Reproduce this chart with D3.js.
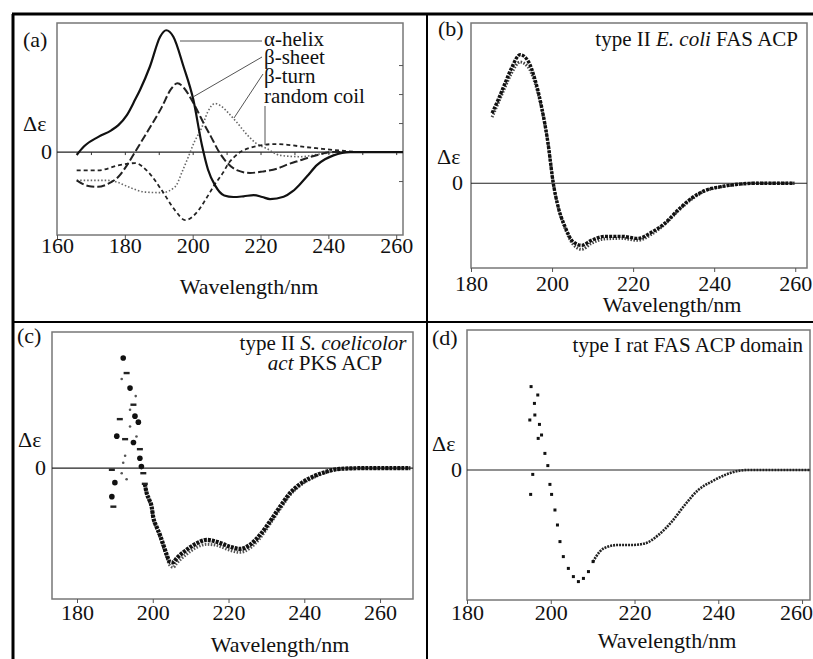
<!DOCTYPE html>
<html lang="en">
<head>
<meta charset="UTF-8">
<title>CD spectra of acyl carrier proteins</title>
<script src="https://d3js.org/d3.v7.min.js"></script>
<style>
  body { margin: 0; background: #fff; }
  svg text { font-family: "Liberation Serif", "Times New Roman", serif; fill: #111; }
</style>
</head>
<body>
<div id="chart"></div>
<script>
// ---- values (wavelength in nm, delta-epsilon in arbitrary units) ----

// (a) reference spectra of secondary structure types
const helixX = [165.8, 168, 172.2, 176, 178.1, 180.6, 183, 184.5, 187.4, 190.4, 192.2, 194.3, 197.3, 200.2, 202.7, 204.5, 206.6, 209.3, 212, 215, 218, 220.5, 222.8, 226.8, 229.5, 231.7, 234, 236.6, 239, 241.5, 246.4, 255, 262];
const helixY = [-0.2, 0.4, 1.05, 1.5, 1.86, 2.55, 3.6, 4.3, 5.9, 7.95, 8.4, 7.95, 5.9, 3.6, 0.5, -1.2, -2.3, -3.0, -3.1, -3.05, -2.97, -3.1, -3.24, -3.08, -2.7, -2.2, -1.6, -0.9, -0.5, -0.23, 0, 0, 0];

const sheetX = [165.8, 169.2, 172, 175, 178.1, 180.6, 183, 186.9, 190.9, 193.5, 195.5, 197.5, 199.2, 201.5, 203.2, 205.3, 207.8, 210, 213, 216.9, 220.5, 224.8, 228, 231.7, 236, 241.5, 250, 262];
const sheetY = [-1.95, -2.34, -2.4, -2.2, -1.7, -0.92, 0, 1.5, 3.1, 4.3, 4.75, 4.4, 3.8, 2.8, 2.0, 1.1, 0, -0.7, -1.25, -1.44, -1.35, -1.15, -0.85, -0.57, -0.25, 0, 0, 0];

const turnX = [165.8, 170, 175, 178, 181, 186, 190.9, 194.8, 197, 198.7, 200.5, 202.7, 204.5, 206.6, 208.5, 210.5, 213, 216, 218.9, 221.9, 225.8, 231.7, 238.6, 245, 262];
const turnY = [-1.95, -1.95, -1.95, -2.1, -2.4, -2.76, -2.8, -2.4, -1.3, -0.34, 0.7, 1.7, 2.8, 3.35, 3.15, 2.7, 2.05, 1.2, 0.57, 0.23, -0.23, -0.32, -0.1, 0, 0];

const coilX = [165.8, 172.2, 178.1, 181, 183, 186.9, 190.9, 194.8, 197.8, 201.7, 204, 206.6, 209, 210.5, 212, 214, 217, 220, 224, 228, 233, 237, 243.5, 250, 262];
const coilY = [-1.26, -1.26, -0.92, -0.8, -0.76, -1.38, -2.64, -4.02, -4.69, -4.02, -3.2, -2.2, -1.4, -0.8, -0.4, 0, 0.3, 0.46, 0.55, 0.5, 0.35, 0.25, 0.1, 0, 0];

const legendNames = ["\u03b1-helix", "\u03b2-sheet", "\u03b2-turn", "random coil"];

// (b) type II E. coli FAS ACP, two overlaid runs
const ecoliX = [185.2, 186.7, 188.4, 190, 192.1, 194.1, 195.8, 197.4, 199, 200.3, 201.5, 203.2, 205.2, 207.3, 209.7, 213, 217.1, 221.2, 224.5, 227.8, 231.1, 234.4, 237.6, 241.7, 245.8, 250, 255, 259.8];
const ecoliY1 = [3.5, 4.17, 5.0, 5.75, 6.42, 6.1, 5.17, 3.83, 2.0, 0, -1.17, -2.17, -2.92, -3.1, -2.85, -2.65, -2.65, -2.75, -2.45, -2.0, -1.33, -0.75, -0.37, -0.17, -0.05, 0, 0, 0];
const ecoliY2 = [3.3, 4.0, 4.8, 5.5, 6.05, 5.8, 5.0, 3.75, 2.0, 0, -1.2, -2.25, -3.05, -3.3, -3.0, -2.78, -2.75, -2.85, -2.55, -2.05, -1.38, -0.8, -0.4, -0.18, -0.06, 0, 0, 0];

// (c) type II S. coelicolor act PKS ACP: noisy short-wavelength points, then two runs
const actNoiseX = [192.2, 193.1, 191.8, 194, 194.9, 194, 195.3, 191.3, 194, 190.5, 192.7, 195.7, 194.9, 196.6, 192.7, 196.6, 189.2, 191.8, 197, 197.5, 193.1, 190, 197.9, 192.2, 189.2, 189.6, 195.5, 196.2];
const actNoiseY = [5.5, 4.75, 4.45, 4.0, 3.17, 2.92, 2.6, 2.45, 2.08, 1.6, 1.45, 1.58, 1.28, 0.95, 0.62, 0.5, -0.08, -0.25, 0.08, -0.25, -0.55, -0.72, -0.78, 0.27, -1.42, -1.92, 3.6, 2.3];
const actX = [197.9, 198.4, 199.1, 199.7, 200.1, 201, 201.9, 202.8, 203.7, 204.5, 205.4, 206.3, 208.9, 211.6, 214.2, 216.8, 220.4, 223, 225.6, 228.3, 230.9, 233.6, 236.2, 238.8, 242.3, 245.9, 249.4, 255, 262, 268];
const actY1 = [-0.78, -1.25, -1.58, -1.92, -2.42, -2.92, -3.33, -3.83, -4.33, -4.67, -4.7, -4.5, -4.08, -3.75, -3.58, -3.67, -3.92, -4.03, -3.83, -3.33, -2.67, -1.92, -1.25, -0.8, -0.42, -0.17, -0.03, 0, 0, 0];
const actY2 = [-0.8, -1.3, -1.65, -2.0, -2.5, -3.0, -3.45, -3.95, -4.45, -4.85, -4.95, -4.75, -4.3, -3.95, -3.8, -3.85, -4.1, -4.2, -4.0, -3.5, -2.8, -2.05, -1.35, -0.88, -0.48, -0.2, -0.05, 0, 0, 0];

// (d) type I rat FAS ACP domain: sparse points, then dense trace
const ratX = [195.3, 196.9, 196.1, 196.2, 195, 197.3, 197.8, 197, 198.6, 199.3, 195.7, 199.8, 200.2, 195.2, 201, 201.6, 202.2, 203, 204.2, 205.4, 206.6, 207.8, 209, 210.1];
const ratY = [4.17, 3.75, 3.33, 2.75, 2.5, 2.28, 1.75, 1.58, 0.83, 0.22, -0.22, -0.72, -1.22, -1.22, -2.0, -2.75, -3.58, -4.33, -4.92, -5.33, -5.58, -5.42, -5.08, -4.58];
const ratLineX = [210.1, 211.7, 213.7, 216.1, 219.3, 222.5, 225.7, 228.9, 232, 235.2, 238.4, 241.6, 244.7, 247.1, 255, 262];
const ratLineY = [-4.58, -4.08, -3.83, -3.75, -3.75, -3.67, -3.25, -2.58, -1.75, -1.0, -0.58, -0.25, -0.05, 0, 0, 0];

const xTicks = [160, 180, 200, 220, 240, 260];

// ---- drawing ----
const W = 813, H = 659;
const svg = d3.select("#chart").append("svg").attr("width", W).attr("height", H);
svg.append("rect").attr("width", W).attr("height", H).attr("fill", "#fff");

function text(g, str, x, y, anchor, size) {
  return g.append("text").attr("x", x).attr("y", y)
    .attr("text-anchor", anchor || "start")
    .style("font-size", (size || 22) + "px")
    .text(str);
}

// sets up one panel: frame, zero line, x axis, labels; returns scales
function panel(p) {
  const x = d3.scaleLinear().domain(p.xDomain).range([p.left, p.right]);
  const y = d3.scaleLinear().domain(p.yDomain).range([p.bottom, p.top]);
  const g = svg.append("g");

  g.append("rect")
    .attr("x", p.left).attr("y", p.top)
    .attr("width", p.right - p.left).attr("height", p.bottom - p.top)
    .attr("fill", "none").attr("stroke", "#777").attr("stroke-width", 1.5);

  g.append("line")
    .attr("x1", p.left).attr("x2", p.right)
    .attr("y1", y(0)).attr("y2", y(0))
    .attr("stroke", "#222").attr("stroke-width", 1.2);

  const ax = g.append("g")
    .attr("transform", `translate(0,${p.bottom})`)
    .call(d3.axisBottom(x).tickValues(xTicks.filter(t => t >= p.xDomain[0] && t <= p.xDomain[1])).tickSize(4));
  ax.select(".domain").remove();
  ax.selectAll("line").attr("stroke", "#555");
  ax.selectAll("text").attr("y", p.tickY).attr("dy", null).style("font-size", "22px");
  // keep the last label inside the picture
  ax.selectAll(".tick").filter(d => x(d) + 17 > W).select("text").attr("x", d => W - 17 - x(d));

  text(g, p.tag, p.tagX, p.tagY);
  text(g, "\u0394\u03b5", p.deX, p.deY);
  text(g, "0", p.zeroX, y(0) + 7, "end");
  text(g, "Wavelength/nm", p.xlabX, p.xlabY, "middle");

  return {g, x, y};
}

const lineOf = (x, y) => d3.line().x(d => x(d[0])).y(d => y(d[1])).curve(d3.curveMonotoneX);
const zip = (a, b) => a.map((v, i) => [v, b[i]]);

// ---- panel (a) ----
const A = panel({left: 57, right: 403, top: 23, bottom: 235, xDomain: [160, 262], yDomain: [-5.72, 8.9],
  tickY: 18, tag: "(a)", tagX: 23, tagY: 47, deX: 23, deY: 131, zeroX: 52, xlabX: 249, xlabY: 294});

// small right-hand ticks and marks along the zero line
const ra = A.g.append("g").attr("transform", "translate(403,0)")
  .call(d3.axisLeft(A.y).tickValues([6, 4, 2, -2]).tickSize(4).tickFormat(""));
ra.select(".domain").remove();
ra.selectAll("line").attr("stroke", "#555");
const za = A.g.append("g").attr("transform", `translate(0,${A.y(0)})`)
  .call(d3.axisBottom(A.x).tickValues(d3.range(170, 261, 10)).tickSize(3).tickFormat(""));
za.select(".domain").remove();
za.selectAll("line").attr("stroke", "#333");

const lineA = lineOf(A.x, A.y);
const curvesA = [
  {x: turnX, y: turnY, stroke: "#666", w: 1.6, dash: "1.5,2"},
  {x: coilX, y: coilY, stroke: "#222", w: 1.8, dash: "4,3"},
  {x: sheetX, y: sheetY, stroke: "#222", w: 2, dash: "8,3"},
  {x: helixX, y: helixY, stroke: "#111", w: 2.2, dash: null}
];
curvesA.forEach(c => {
  A.g.append("path").datum(zip(c.x, c.y))
    .attr("d", lineA).attr("fill", "none")
    .attr("stroke", c.stroke).attr("stroke-width", c.w)
    .attr("stroke-dasharray", c.dash);
});

// legend with leader lines
const legY = [46, 64, 83, 103];
legendNames.forEach((n, i) => text(A.g, n, 264, legY[i], "start", 21));
const leaders = [[180, 41, 262, 41], [193, 97, 262, 57], [234, 118, 263, 74], [265, 106, 265, 145]];
leaders.forEach(l => {
  A.g.append("line").attr("x1", l[0]).attr("y1", l[1]).attr("x2", l[2]).attr("y2", l[3])
    .attr("stroke", "#555").attr("stroke-width", 1);
});

// ---- panel (b) ----
const B = panel({left: 471, right: 807, top: 23, bottom: 268, xDomain: [180, 262.9], yDomain: [-4.23, 8.0],
  tickY: 23, tag: "(b)", tagX: 438, tagY: 36, deX: 437, deY: 164, zeroX: 463, xlabX: 672, xlabY: 312});
const lineB = lineOf(B.x, B.y);
B.g.append("path").datum(zip(ecoliX, ecoliY2)).attr("d", lineB).attr("fill", "none")
  .attr("stroke", "#444").attr("stroke-width", 3).attr("stroke-dasharray", "1.5,1.5");
B.g.append("path").datum(zip(ecoliX, ecoliY1)).attr("d", lineB).attr("fill", "none")
  .attr("stroke", "#111").attr("stroke-width", 3.4).attr("stroke-dasharray", "3,1.2");
const tb = text(B.g, "type II ", 798, 46, "end", 21);
tb.append("tspan").style("font-style", "italic").text("E. coli");
tb.append("tspan").text(" FAS ACP");

// ---- panel (c) ----
const C = panel({left: 52, right: 413, top: 332, bottom: 599, xDomain: [173.4, 268.7], yDomain: [-6.53, 6.8],
  tickY: 21, tag: "(c)", tagX: 17, tagY: 343, deX: 18, deY: 447, zeroX: 46, xlabX: 280, xlabY: 652});
const lineC = lineOf(C.x, C.y);
C.g.append("path").datum(zip(actX, actY2)).attr("d", lineC).attr("fill", "none")
  .attr("stroke", "#555").attr("stroke-width", 3).attr("stroke-dasharray", "1.5,1.5");
C.g.append("path").datum(zip(actX, actY1)).attr("d", lineC).attr("fill", "none")
  .attr("stroke", "#111").attr("stroke-width", 4.2).attr("stroke-dasharray", "3,1");
zip(actNoiseX, actNoiseY).forEach((d, i) => {
  const cx = C.x(d[0]), cy = C.y(d[1]);
  if (i % 3 === 0) {
    C.g.append("circle").attr("cx", cx).attr("cy", cy).attr("r", 2.8).attr("fill", "#111");
  } else if (i % 3 === 1) {
    C.g.append("rect").attr("x", cx - 3).attr("y", cy - 1.2).attr("width", 6).attr("height", 2.4).attr("fill", "#222");
  } else {
    C.g.append("circle").attr("cx", cx).attr("cy", cy).attr("r", 1.3).attr("fill", "#555");
  }
});
text(C.g, "type II ", 323, 350, "middle", 21)
  .call(t => { t.append("tspan").style("font-style", "italic").text("S. coelicolor"); });
text(C.g, "", 325, 370, "middle", 21)
  .call(t => {
    t.append("tspan").style("font-style", "italic").text("act");
    t.append("tspan").text(" PKS ACP");
  });

// ---- panel (d) ----
const D = panel({left: 467, right: 810, top: 330, bottom: 600, xDomain: [180, 261.9], yDomain: [-6.5, 7],
  tickY: 20, tag: "(d)", tagX: 432, tagY: 345, deX: 432, deY: 451, zeroX: 462, xlabX: 667, xlabY: 648});
D.g.append("path").datum(zip(ratLineX, ratLineY)).attr("d", lineOf(D.x, D.y)).attr("fill", "none")
  .attr("stroke", "#222").attr("stroke-width", 2.6).attr("stroke-dasharray", "2,1");
D.g.selectAll("rect.pt").data(zip(ratX, ratY)).enter().append("rect")
  .attr("class", "pt")
  .attr("x", d => D.x(d[0]) - 1.5).attr("y", d => D.y(d[1]) - 1.5)
  .attr("width", 3).attr("height", 3).attr("fill", "#111");
text(D.g, "type I rat FAS ACP domain", 803, 352, "end", 21);

// ---- outer frame and dividers ----
const frame = [[12, 14, 813, 14, 3], [13, 14, 13, 659, 3], [427, 14, 427, 659, 2], [13, 322, 813, 322, 2]];
frame.forEach(f => {
  svg.append("line").attr("x1", f[0]).attr("y1", f[1]).attr("x2", f[2]).attr("y2", f[3])
    .attr("stroke", "#000").attr("stroke-width", f[4]);
});
</script>
</body>
</html>
